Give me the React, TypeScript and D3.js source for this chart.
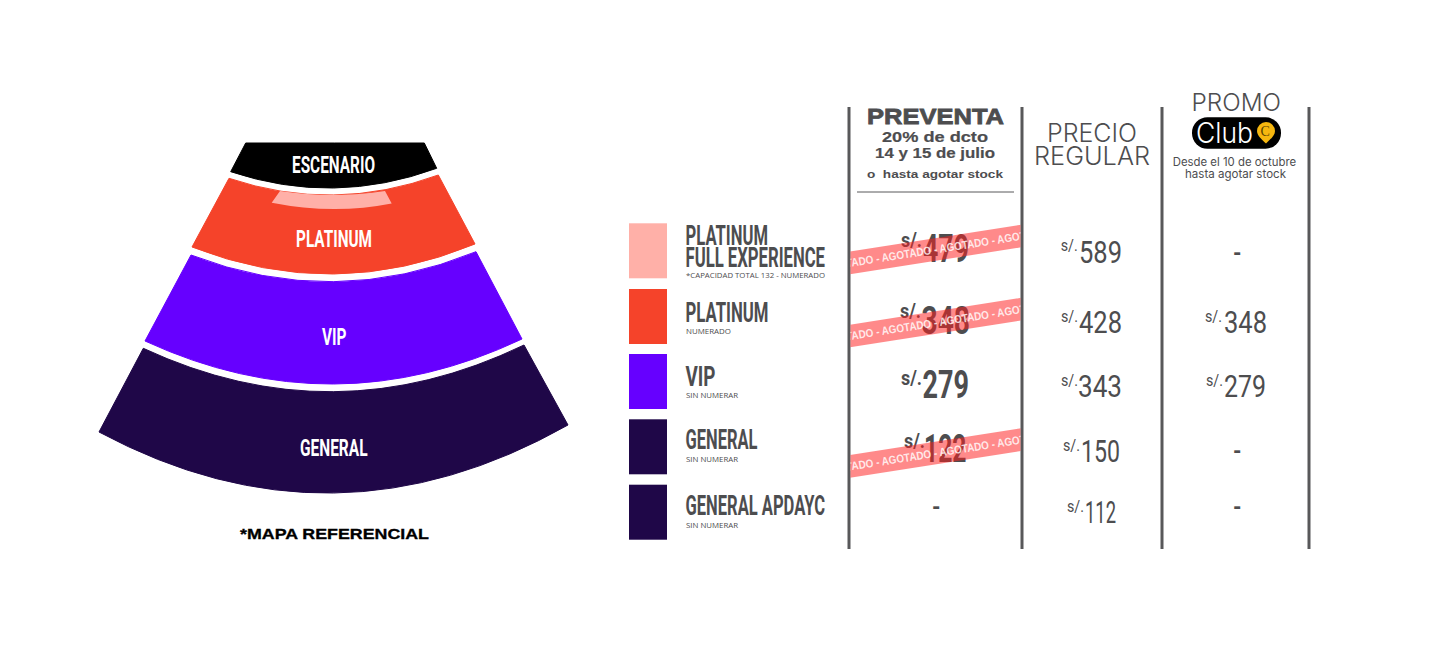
import React from "react";
import * as d3 from "d3";

// ---------- data ----------
const tiers = ["PLATINUM FULL EXPERIENCE", "PLATINUM", "VIP", "GENERAL", "GENERAL APDAYC"];
const tierNotes = ["*CAPACIDAD TOTAL 132 - NUMERADO", "NUMERADO", "SIN NUMERAR", "SIN NUMERAR", "SIN NUMERAR"];
const preventaPrices = [479, 348, 279, 122, null];
const regularPrices = [589, 428, 343, 150, 112];
const promoPrices = [null, 348, 279, null, null];
const soldOut = [true, true, false, true, false];
const mapSections = ["ESCENARIO", "PLATINUM", "VIP", "GENERAL"];

// ---------- layout ----------
const W = 1440, H = 664;
const GREY = "#4d4d4f";
const LINE = "#58585a";
const tierColor = d3.scaleOrdinal<string, string>().domain(tiers).range(["#ffb0a8", "#f5432a", "#6600ff", "#1f0748", "#1f0748"]);
const mapColor = d3.scaleOrdinal<string, string>().domain(mapSections).range(["#000000", "#f5432a", "#6600ff", "#1f0748"]);
const swatchTop = d3.scaleOrdinal<string, number>().domain(tiers).range([223.3, 289, 354, 419.3, 484.7]);
const noteY = d3.scaleOrdinal<string, number>().domain(tiers).range([277.7, 333.7, 397.7, 461.7, 527.7]);
const priceY = d3.scaleOrdinal<string, number>().domain(tiers).range([262, 334, 398, 462, 524]);
const regularY = d3.scaleOrdinal<string, number>().domain(tiers).range([262.5, 333, 397, 462, 523]);
const dashY = d3.scaleOrdinal<string, number>().domain(tiers).range([261, 323, 387, 459, 515]);
const ribbonCy = d3.scaleOrdinal<string, number>().domain(tiers).range([249.4, 322.6, 386, 453, 510]);
const noteW = [139, 45, 52, 52, 52];
const labelLines: [string, number, number][][] = [
  [["PLATINUM", 245, 82.5], ["FULL EXPERIENCE", 267.3, 139.5]],
  [["PLATINUM", 321.7, 83]],
  [["VIP", 385.5, 30]],
  [["GENERAL", 449.3, 72]],
  [["GENERAL APDAYC", 514.7, 139.5]],
];
const colLines = [849, 1022, 1162, 1309];
const preventaNumX = [923, 921.5, 922.5, 924, 0], preventaNumW = [46, 48.5, 46.5, 42.5, 0];
const preventaSX = [901, 900, 901, 904, 0], preventaSY = [246.7, 318, 385, 448, 0];
const regularNumX = [1079, 1079, 1078, 1081, 1085], regularNumW = [43, 43, 44, 39, 31];
const regularSX = [1060.7, 1061, 1061, 1063, 1067];
const promoNumX = [0, 1224, 1224, 0, 0], promoNumW = [0, 43, 42, 0, 0], promoSX = [0, 1205, 1206, 0, 0];

// fan sections: side lines + bowed edges
const sideL = d3.scaleLinear().domain([432, 348.3, 341, 255, 247, 178.3, 171.7, 143]).range([99, 143.3, 145, 191, 192, 229, 230.7, 245.7]);
const sideR = d3.scaleLinear().domain([425, 345, 339, 251.7, 244, 175, 168.3, 143]).range([568, 524, 522, 476, 475, 438.3, 436.7, 424.3]);
const mid = 333.5;
type Edge = { l: number; r: number; m: number };
function sectionPath(top: Edge, bot: Edge, xl: any = sideL, xr: any = sideR) {
  const p = d3.path();
  const ctrl = (e: Edge) => 2 * e.m - (e.l + e.r) / 2;
  p.moveTo(xl(top.l), top.l);
  p.quadraticCurveTo(mid, ctrl(top), xr(top.r), top.r);
  p.lineTo(xr(bot.r), bot.r);
  p.quadraticCurveTo(mid, ctrl(bot), xl(bot.l), bot.l);
  p.closePath();
  return p.toString();
}
const fan: { name: string; top: Edge; bot: Edge; label: [number, number, number] }[] = [
  { name: "ESCENARIO", top: { l: 143, r: 143, m: 143 }, bot: { l: 171.7, r: 168.3, m: 188 }, label: [292, 173.3, 83] },
  { name: "PLATINUM", top: { l: 178.3, r: 175, m: 195 }, bot: { l: 247, r: 244, m: 274 }, label: [296, 246.7, 76] },
  { name: "VIP", top: { l: 255, r: 251.7, m: 281.7 }, bot: { l: 341, r: 339, m: 384 }, label: [322, 345, 24.5] },
  { name: "GENERAL", top: { l: 348.3, r: 345, m: 391.7 }, bot: { l: 432, r: 425, m: 493 }, label: [300, 456, 67.5] },
];
const fePath = sectionPath(
  { l: 191, r: 191, m: 195 },
  { l: 202.7, r: 203.5, m: 209 },
  d3.scaleLinear().domain([191, 202.7]).range([280, 271.7]),
  d3.scaleLinear().domain([191, 203.5]).range([385, 391.7])
);

const NARROW = "'Liberation Sans Narrow','Roboto','Liberation Sans',sans-serif";
const WIDE = "'Liberation Sans','Inter',sans-serif";
const LIGHT = "'Inter','Liberation Sans',sans-serif";

function T(p: { x: number; y: number; w?: number; s: number; f?: string; c?: string; b?: number; children: React.ReactNode; o?: number; sw?: number }) {
  return (
    <text
      x={p.x}
      y={p.y}
      fontSize={p.s}
      fontFamily={p.f ?? NARROW}
      fontWeight={p.b ?? 400}
      fill={p.c ?? GREY}
      fillOpacity={p.o}
      stroke={p.sw ? (p.c ?? GREY) : undefined}
      strokeWidth={p.sw}
      textLength={p.w}
      lengthAdjust={p.w ? "spacingAndGlyphs" : undefined}
      xmlSpace="preserve"
    >
      {p.children}
    </text>
  );
}

function Ribbon({ tier }: { tier: string }) {
  const cy = ribbonCy(tier);
  const cx = 935.5;
  return (
    <g clipPath="url(#tableClip)">
      <g transform={`rotate(-8.9 ${cx} ${cy})`}>
        <rect x={cx - 110} y={cy - 11.2} width={220} height={22.4} fill="#ff1f1f" fillOpacity={0.52} />
        <text
          x={cx - 113}
          y={cy + 4}
          fontSize={11.5}
          fontWeight={700}
          fontFamily="'Liberation Sans','Roboto',sans-serif"
          fill="#fff"
          fillOpacity={0.82}
          textLength={284}
          lengthAdjust="spacingAndGlyphs"
        >
          AGOTADO - AGOTADO - AGOTADO - AGOTADO - AGOTADO
        </text>
      </g>
    </g>
  );
}

function Price({ value, numX, numW, sX, sY, y, bold }: { value: number; numX: number; numW: number; sX: number; sY: number; y: number; bold: boolean }) {
  return (
    <g>
      <T x={sX} y={sY} s={bold ? 21 : 17} b={bold ? 700 : 400} w={bold ? 21 : 17}>s/.</T>
      <T x={numX} y={y} s={bold ? 39.5 : 31.5} b={bold ? 700 : 400} w={numW}>{value}</T>
    </g>
  );
}

export default function App() {
  return (
    <svg width={W} height={H} viewBox={`0 0 ${W} ${H}`} style={{ position: "absolute", left: 0, top: 0, display: "block", background: "#fff" }}>
      <defs>
        <clipPath id="tableClip"><rect x={850.5} y={100} width={170} height={450} /></clipPath>
      </defs>

      {/* seating map */}
      {fan.map((s) => (
        <path key={s.name} d={sectionPath(s.top, s.bot)} fill={mapColor(s.name)} stroke={mapColor(s.name)} strokeWidth={1} strokeLinejoin="round" />
      ))}
      <path d={fePath} fill={tierColor(tiers[0])} />
      {fan.map((s) => (
        <T key={s.name} x={s.label[0]} y={s.label[1]} w={s.label[2]} s={24} b={700} c="#fff">{s.name}</T>
      ))}
      <T x={240} y={539} w={189} s={14} f={WIDE} b={700} c="#000" sw={0.3}>*MAPA REFERENCIAL</T>

      {/* legend */}
      {tiers.map((t, i) => (
        <g key={t}>
          <rect x={629} y={swatchTop(t)} width={38} height={55} fill={tierColor(t)} />
          {labelLines[i].map(([txt, y, w]) => (
            <T key={txt} x={685.5} y={y} w={w} s={27} b={700}>{txt}</T>
          ))}
          <T x={686} y={noteY(t)} w={noteW[i]} s={7.6} f="'Open Sans','Liberation Sans',sans-serif">{tierNotes[i]}</T>
        </g>
      ))}

      {/* column rules */}
      {colLines.map((x) => (
        <line key={x} x1={x} x2={x} y1={107} y2={549} stroke={LINE} strokeWidth={3} />
      ))}

      {/* headers */}
      <T x={867} y={123.5} w={137} s={22.5} f={WIDE} b={700} sw={0.8}>PREVENTA</T>
      <T x={882} y={141.7} w={106} s={15.5} f={WIDE} b={700} sw={0.2}>20% de dcto</T>
      <T x={875} y={158} w={120} s={15.5} f={WIDE} b={700} sw={0.2}>14 y 15 de julio</T>
      <T x={867} y={177.7} w={136} s={11.5} f={WIDE} b={700}>o  hasta agotar stock</T>
      <line x1={857} x2={1014} y1={192} y2={192} stroke={LINE} strokeWidth={1} />

      <T x={1047} y={141.7} w={90} s={25} f={LIGHT} b={300}>PRECIO</T>
      <T x={1034} y={165} w={116} s={25} f={LIGHT} b={300}>REGULAR</T>

      <T x={1191.5} y={110.7} w={89.5} s={24.5} f={LIGHT} b={300}>PROMO</T>
      <rect x={1192} y={117.3} width={89} height={31.4} rx={15.5} fill="#000" />
      <T x={1196} y={142.7} w={57} s={28} f={LIGHT} b={300} c="#fff">Club</T>
      <path
        d={`M1257 131 A9 9 0 0 1 1275 131 C1275 136 1269.5 140 1266 143.5 C1262.5 140 1257 136 1257 131 Z`}
        fill="#f5b60f"
      />
      <T x={1260.5} y={136} s={14} f="'Liberation Serif',serif" c="#5a4200">C</T>
      <T x={1172.7} y={166} w={123.5} s={11.5} f={LIGHT}>Desde el 10 de octubre</T>
      <T x={1185} y={177.5} w={101} s={11.5} f={LIGHT}>hasta agotar stock</T>

      {/* prices */}
      {tiers.map((t, i) => {
        const v = preventaPrices[i];
        const p = promoPrices[i];
        return (
          <g key={t}>
            {v != null ? (
              <Price value={v} numX={preventaNumX[i]} numW={preventaNumW[i]} sX={preventaSX[i]} sY={preventaSY[i]} y={priceY(t)} bold />
            ) : (
              <T x={932} y={dashY(t)} w={8.5} s={23} b={700}>-</T>
            )}
            <Price value={regularPrices[i]} numX={regularNumX[i]} numW={regularNumW[i]} sX={regularSX[i]} sY={regularY(t) - 11.5} y={regularY(t)} bold={false} />
            {p != null ? (
              <Price value={p} numX={promoNumX[i]} numW={promoNumW[i]} sX={promoSX[i]} sY={regularY(t) - 11.5} y={regularY(t)} bold={false} />
            ) : (
              <T x={1233} y={dashY(t)} w={8.5} s={23} b={700}>-</T>
            )}
          </g>
        );
      })}

      {/* sold-out ribbons */}
      {tiers.map((t, i) => (soldOut[i] ? <Ribbon key={t} tier={t} /> : null))}
    </svg>
  );
}
